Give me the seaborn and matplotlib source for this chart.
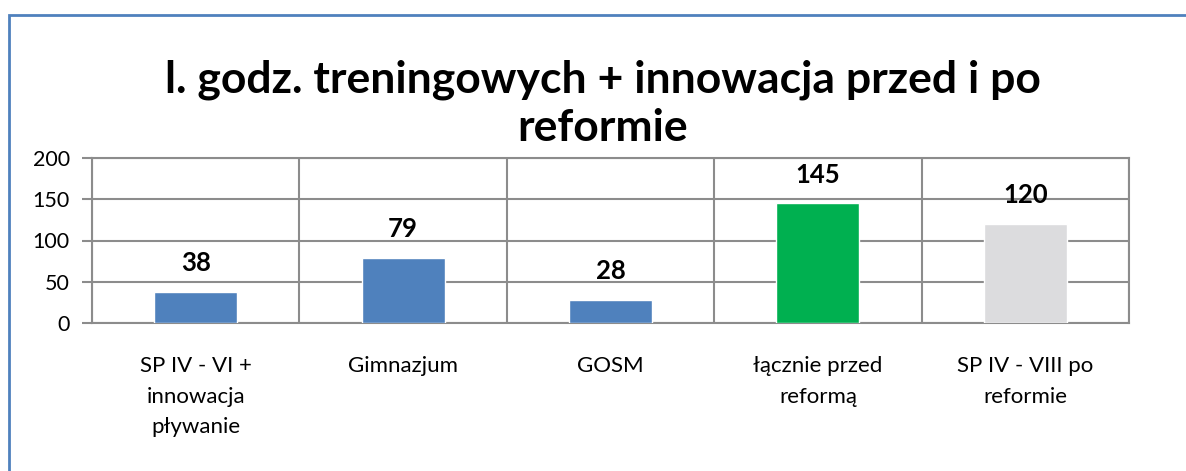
import numpy as np
import pandas as pd
import matplotlib
matplotlib.use("Agg")
import matplotlib.pyplot as plt
from matplotlib.patches import Rectangle
import seaborn as sns

# chart data
categories = ["SP IV - VI +\ninnowacja\npływanie", "Gimnazjum", "GOSM",
              "łącznie przed\nreformą", "SP IV - VIII po\nreformie"]
hours = [38, 79, 28, 145, 120]
bar_colors = ["#4F81BD", "#4F81BD", "#4F81BD", "#00B050", "#DCDCDE"]
y_ticks = [0, 50, 100, 150, 200]

sns.set_theme(style="white")
plt.rcParams["font.family"] = ["Lato", "DejaVu Sans"]

fig = plt.figure(figsize=(11.86, 4.71), dpi=100)
ax = fig.add_axes([92 / 1186, 1 - 323 / 471, (1129 - 92) / 1186, (323 - 158) / 471])

df = pd.DataFrame({"cat": categories, "val": hours})
sns.barplot(data=df, x="cat", y="val", hue="cat", palette=bar_colors,
            width=0.4, saturation=1, legend=False, ax=ax, zorder=3)

grid_c = "#8C8C8C"
ax.set_ylim(0, 200)
ax.set_xlim(-0.5, len(categories) - 0.5)
ax.set_yticks(y_ticks)
ax.set_yticklabels([str(t) for t in y_ticks], fontsize=15.5, color="black")
ax.set_xticks(range(len(categories)))
ax.set_xticklabels(categories, fontsize=16, linespacing=1.65, color="black")
ax.set_xticks(np.arange(-0.5, len(categories), 1.0), minor=True)
ax.tick_params(axis="x", which="major", length=0, pad=24)
ax.tick_params(axis="x", which="minor", length=7, width=1.5, color=grid_c, direction="out")
ax.tick_params(axis="y", length=7, width=1.5, color=grid_c, direction="out", pad=9, left=True)
ax.grid(axis="y", color=grid_c, linewidth=1.5, zorder=0)
ax.grid(axis="x", which="minor", color=grid_c, linewidth=1.5, zorder=0)
ax.set_axisbelow(True)
for s in ax.spines.values():
    s.set_color(grid_c)
    s.set_linewidth(1.5)
ax.set_xlabel("")
ax.set_ylabel("")

for container in ax.containers:
    ax.bar_label(container, fmt="%d", padding=12, fontsize=18.5, fontweight="bold",
                 color="black")

fig.text(0.508, 0.78, "l. godz. treningowych + innowacja przed i po\nreformie",
         ha="center", va="center", fontsize=32, fontweight="bold", linespacing=1.25,
         color="black")

# outer chart frame
fig.patches.append(Rectangle((9 / 1186, -0.1), 1.2, 1 - 15 / 471 + 0.1,
                             transform=fig.transFigure, fill=False,
                             edgecolor="#4F81BD", linewidth=2))

fig.savefig("out.png", dpi=100)
